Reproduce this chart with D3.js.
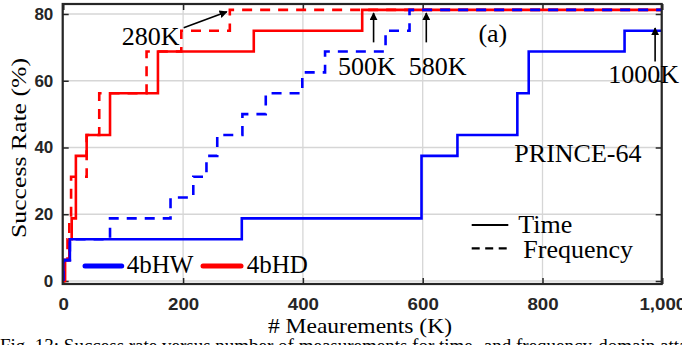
<!DOCTYPE html>
<html>
<head>
<meta charset="utf-8">
<style>
body { margin: 0; background: #fff; }
svg { display: block; }
</style>
</head>
<body></body>
<script src="https://d3js.org/d3.v7.min.js"></script>
<script>

// step series: measurement count (K) where the rate changes, and rate (%)
var hwTimeK    = [0, 0, 11, 298, 598, 658, 758, 777, 937, 1000];
var hwTimeRate = [0, 6.25, 12.5, 18.75, 37.5, 43.75, 56.25, 68.75, 75, 75];

var hwFreqK    = [0, 0, 11, 78, 179, 217, 239, 257, 299, 338, 399, 437, 538, 578, 1000];
var hwFreqRate = [0, 6.25, 12.5, 18.75, 25, 31.25, 37.5, 43.75, 50, 56.25, 62.5, 68.75, 75, 81.25, 81.25];

var hdTimeK    = [0, 3, 10, 14, 21, 39, 78, 158, 318, 499, 1000];
var hdTimeRate = [0, 6.25, 12.5, 18.75, 37.5, 43.75, 56.25, 68.75, 75, 81.25, 81.25];

var hdFreqK    = [0, 2, 7, 10, 13, 39, 60, 139, 197, 278, 1000];
var hdFreqRate = [0, 6.25, 12.5, 18.75, 31.25, 43.75, 56.25, 68.75, 75, 81.25, 81.25];

var xTicks = [0, 200, 400, 600, 800, 1000];
var yTicks = [0, 20, 40, 60, 80];

// annotation labels with their arrows, in data units
var annLabels = ["280K", "500K", "580K", "1000K"];
var annTextX  = [146, 507, 625, 969];
var annTextY  = [70.8, 61.8, 61.8, 59.3];
var annFromX  = [201, 518, 606, 988];
var annFromY  = [75.9, 71.5, 71.5, 65.8];
var annToX    = [273, 518, 606, 988];
var annToY    = [80.7, 80.3, 80.3, 75.8];

var pLeft = 62.7, pRight = 661.7, pTop = 4, pBottom = 284;
var W = 682, H = 345;

var x = d3.scaleLinear().domain([0, 1000]).range([63.3, 662.3]);
var y = d3.scaleLinear().domain([0, 80]).range([281, 14]);

var svg = d3.select("body").append("svg")
	.attr("width", W)
	.attr("height", H);

var defs = svg.append("defs");
defs.append("marker")
	.attr("id", "head")
	.attr("viewBox", "0 0 10 10")
	.attr("refX", 9).attr("refY", 5)
	.attr("markerWidth", 5).attr("markerHeight", 5)
	.attr("markerUnits", "strokeWidth")
	.attr("orient", "auto")
  .append("path")
	.attr("d", "M0,0 L10,5 L0,10 z")
	.attr("fill", "#000");
defs.append("clipPath").attr("id", "plot")
  .append("rect")
	.attr("x", pLeft).attr("y", pTop)
	.attr("width", pRight - pLeft).attr("height", pBottom - pTop);

// grid
svg.append("g").selectAll("line")
	.data(xTicks)
  .enter().append("line")
	.attr("x1", d => x(d)).attr("x2", d => x(d))
	.attr("y1", pTop).attr("y2", pBottom)
	.attr("stroke", "#d6d6d6").attr("stroke-width", 1.3);
svg.append("g").selectAll("line")
	.data(yTicks)
  .enter().append("line")
	.attr("x1", pLeft).attr("x2", pRight)
	.attr("y1", d => y(d)).attr("y2", d => y(d))
	.attr("stroke", "#d6d6d6").attr("stroke-width", 1.3);

// axes
var xAxis = svg.append("g")
	.attr("transform", "translate(0," + pBottom + ")")
	.call(d3.axisBottom(x).tickValues(xTicks).tickSize(-6).tickSizeOuter(0));
xAxis.selectAll("text")
	.attr("y", 26).attr("dy", 0)
	.attr("transform", "scale(1.1,1)");

svg.append("g")
	.attr("transform", "translate(" + pLeft + ",0)")
	.call(d3.axisLeft(y).tickValues(yTicks).tickSize(-6).tickSizeOuter(0).tickPadding(9.4));

svg.append("g")
	.attr("transform", "translate(0," + pTop + ")")
	.call(d3.axisTop(x).tickValues(xTicks).tickSize(-6).tickSizeOuter(0).tickFormat(""));
svg.append("g")
	.attr("transform", "translate(" + pRight + ",0)")
	.call(d3.axisRight(y).tickValues(yTicks).tickSize(-6).tickSizeOuter(0).tickFormat(""));

svg.selectAll(".domain").remove();
svg.selectAll(".tick line").attr("stroke", "#262626").attr("stroke-width", 1.5);
svg.selectAll(".tick text")
	.attr("fill", "#262626")
	.attr("font-family", "Liberation Sans, Arial, sans-serif")
	.attr("font-weight", "bold")
	.attr("font-size", 17);

// data lines
var line = d3.line()
	.x(d => x(d[0]))
	.y(d => y(d[1]))
	.curve(d3.curveStepAfter);

var series = [
	{k: hdTimeK, r: hdTimeRate, color: "#ff0000", dash: null},
	{k: hdFreqK, r: hdFreqRate, color: "#ff0000", dash: "10,8"},
	{k: hwFreqK, r: hwFreqRate, color: "#0000ff", dash: "10,8"},
	{k: hwTimeK, r: hwTimeRate, color: "#0000ff", dash: null}
];

var lines = svg.append("g").attr("clip-path", "url(#plot)");
series.forEach(s => {
	lines.append("path")
		.datum(s.k.map((k, i) => [k, s.r[i]]))
		.attr("fill", "none")
		.attr("stroke", s.color)
		.attr("stroke-width", 2.6)
		.attr("stroke-dasharray", s.dash)
		.attr("d", line);
});

// frame
svg.append("rect")
	.attr("x", pLeft).attr("y", pTop)
	.attr("width", pRight - pLeft).attr("height", pBottom - pTop)
	.attr("fill", "none")
	.attr("stroke", "#262626")
	.attr("stroke-width", 2.2);

var serif = "Liberation Serif, Times New Roman, serif";

// annotations
svg.append("g").selectAll("line")
	.data(annLabels)
  .enter().append("line")
	.attr("x1", (d, i) => x(annFromX[i])).attr("y1", (d, i) => y(annFromY[i]))
	.attr("x2", (d, i) => x(annToX[i])).attr("y2", (d, i) => y(annToY[i]))
	.attr("stroke", "#000")
	.attr("stroke-width", 1.6)
	.attr("marker-end", "url(#head)");

svg.append("g").selectAll("text")
	.data(annLabels)
  .enter().append("text")
	.attr("x", (d, i) => x(annTextX[i]))
	.attr("y", (d, i) => y(annTextY[i]))
	.attr("text-anchor", "middle")
	.attr("font-family", serif)
	.attr("font-size", 26)
	.text(d => d);

svg.append("text")
	.attr("x", x(693)).attr("y", y(71.7))
	.attr("font-family", serif).attr("font-size", 26)
	.text("(a)");

svg.append("text")
	.attr("x", x(753)).attr("y", y(35.8))
	.attr("font-family", serif).attr("font-size", 26)
	.text("PRINCE-64");

// colour legend
svg.append("line")
	.attr("x1", 85).attr("x2", 121.7).attr("y1", 266).attr("y2", 266)
	.attr("stroke", "#0000ff").attr("stroke-width", 5).attr("stroke-linecap", "round");
svg.append("text")
	.attr("x", 126.7).attr("y", 273.3)
	.attr("font-family", serif).attr("font-size", 25)
	.text("4bHW");
svg.append("line")
	.attr("x1", 203).attr("x2", 241).attr("y1", 266).attr("y2", 266)
	.attr("stroke", "#ff0000").attr("stroke-width", 5).attr("stroke-linecap", "round");
svg.append("text")
	.attr("x", 246.7).attr("y", 273.3)
	.attr("font-family", serif).attr("font-size", 25)
	.text("4bHD");

// line style legend
svg.append("line")
	.attr("x1", 471.7).attr("x2", 508.3).attr("y1", 225).attr("y2", 225)
	.attr("stroke", "#000").attr("stroke-width", 2.2);
svg.append("text")
	.attr("x", 518.3).attr("y", 232.7)
	.attr("font-family", serif).attr("font-size", 26)
	.text("Time");
svg.append("line")
	.attr("x1", 471.7).attr("x2", 511).attr("y1", 248.3).attr("y2", 248.3)
	.attr("stroke", "#000").attr("stroke-width", 2.2)
	.attr("stroke-dasharray", "8,5.5");
svg.append("text")
	.attr("x", 523.3).attr("y", 257.7)
	.attr("font-family", serif).attr("font-size", 26)
	.text("Frequency");

// axis titles
svg.append("text")
	.attr("transform", "translate(26,148) rotate(-90)")
	.attr("text-anchor", "middle")
	.attr("font-family", serif).attr("font-size", 21)
	.attr("textLength", 180).attr("lengthAdjust", "spacingAndGlyphs")
	.text("Success Rate (%)");

svg.append("text")
	.attr("x", 360).attr("y", 333)
	.attr("text-anchor", "middle")
	.attr("font-family", serif).attr("font-size", 22)
	.attr("textLength", 184).attr("lengthAdjust", "spacingAndGlyphs")
	.text("# Meaurements (K)");

// figure caption, cut off by the bottom edge
svg.append("text")
	.attr("x", 0).attr("y", 352)
	.attr("font-family", serif).attr("font-size", 19)
	.text("Fig. 13: Success rate versus number of measurements for time- and frequency-domain attacks");

</script>
</html>
